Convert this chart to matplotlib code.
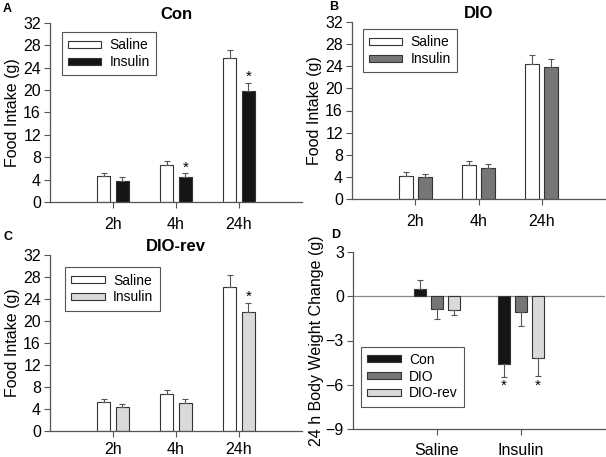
import numpy as np
import matplotlib.pyplot as plt

plt.rcParams['font.family'] = ['Liberation Sans', 'DejaVu Sans']

# food intake, panels A-C
times = ['2h', '4h', '24h']
con_saline = [4.6, 6.6, 25.7]
con_saline_err = [0.6, 0.7, 1.4]
con_insulin = [3.8, 4.4, 19.8]
con_insulin_err = [0.7, 0.7, 1.4]
dio_saline = [4.2, 6.1, 24.4]
dio_saline_err = [0.7, 0.8, 1.6]
dio_insulin = [3.9, 5.6, 23.9]
dio_insulin_err = [0.6, 0.7, 1.4]
rev_saline = [5.2, 6.7, 26.2]
rev_saline_err = [0.7, 0.7, 2.2]
rev_insulin = [4.4, 5.1, 21.6]
rev_insulin_err = [0.6, 0.7, 1.7]

# body weight change, panel D
treatments = ['Saline', 'Insulin']
bw_con = [0.5, -4.6]
bw_con_err = [0.6, 0.9]
bw_dio = [-0.86, -1.1]
bw_dio_err = [0.7, 0.9]
bw_rev = [-0.9, -4.2]
bw_rev_err = [0.4, 1.2]

c_con = '#151515'
c_dio = '#767676'
c_rev = '#dadada'

W, H = 606, 457
fig = plt.figure(figsize=(W / 100, H / 100), dpi=100)


def px_rect(l, t, r, b):
    # axes rect from pixel edges
    return [l / W, 1 - b / H, (r - l) / W, (b - t) / H]


def updown_err(vals, err):
    vals = np.array(vals)
    err = np.array(err)
    up = np.where(vals >= 0, err, 0)
    lo = np.where(vals < 0, err, 0)
    return [lo, up]


def style_axis(ax, pad):
    ax.spines['top'].set_visible(False)
    ax.spines['right'].set_visible(False)
    for s in ['left', 'bottom']:
        ax.spines[s].set_color('#555555')
        ax.spines[s].set_linewidth(0.9)
    ax.tick_params(direction='out', length=4, width=0.8, colors='#555555',
                   labelcolor='black', labelsize=11.5)
    ax.tick_params(axis='y', pad=2.5)
    ax.tick_params(axis='x', pad=pad)


def add_legend(ax, anchor):
    leg = ax.legend(loc='upper left', bbox_to_anchor=anchor, fontsize=10,
                    fancybox=False, framealpha=1, edgecolor='#555555',
                    handlelength=2.4, handleheight=0.4, handletextpad=0.6,
                    borderpad=0.45, labelspacing=0.2, borderaxespad=0)
    leg.get_frame().set_linewidth(0.8)


ek = dict(ecolor='#555555', elinewidth=0.8, capsize=2.5, capthick=0.8)


def intake_panel(rect, title, sal, sal_err, ins, ins_err, ins_color, stars, anchor, pad):
    ax = fig.add_axes(rect)
    x = np.arange(1, len(times) + 1)
    w = 0.22
    ax.bar(x - 0.15, sal, w, color='white', edgecolor='#333333', linewidth=0.8,
           yerr=updown_err(sal, sal_err), error_kw=ek, label='Saline')
    ax.bar(x + 0.15, ins, w, color=ins_color, edgecolor='#333333', linewidth=0.8,
           yerr=updown_err(ins, ins_err), error_kw=ek, label='Insulin')
    for i in stars:
        ax.text(x[i] + 0.15, ins[i] + ins_err[i] + 1.1, '*', ha='center', va='center',
                fontsize=11)
    ax.set_xlim(0, 4)
    ax.set_ylim(0, 32)
    ax.set_yticks(range(0, 33, 4))
    ax.set_xticks(x)
    ax.set_xticklabels(times)
    ax.set_ylabel('Food Intake (g)', fontsize=11.5, labelpad=2)
    ax.set_title(title, fontsize=12, fontweight='bold', pad=3)
    style_axis(ax, pad)
    add_legend(ax, anchor)
    return ax


intake_panel(px_rect(50, 23, 302, 202), 'Con',
             con_saline, con_saline_err, con_insulin, con_insulin_err, c_con, [1, 2],
             (0.047, 0.95), 7)
intake_panel(px_rect(352, 22, 605, 199), 'DIO',
             dio_saline, dio_saline_err, dio_insulin, dio_insulin_err, c_dio, [],
             (0.043, 0.96), 7)
intake_panel(px_rect(50, 255, 302, 431), 'DIO-rev',
             rev_saline, rev_saline_err, rev_insulin, rev_insulin_err, c_rev, [2],
             (0.06, 0.93), 4)

# panel D
ax = fig.add_axes(px_rect(353, 252, 605, 429))
x = np.arange(1, len(treatments) + 1)
w = 0.14
ax.axhline(0, color='#888888', lw=0.9, zorder=0)
ax.bar(x - 0.2, bw_con, w, color=c_con, edgecolor='#333333', linewidth=0.8,
       yerr=updown_err(bw_con, bw_con_err), error_kw=ek, label='Con')
ax.bar(x, bw_dio, w, color=c_dio, edgecolor='#333333', linewidth=0.8,
       yerr=updown_err(bw_dio, bw_dio_err), error_kw=ek, label='DIO')
ax.bar(x + 0.2, bw_rev, w, color=c_rev, edgecolor='#333333', linewidth=0.8,
       yerr=updown_err(bw_rev, bw_rev_err), error_kw=ek, label='DIO-rev')
ax.text(x[1] - 0.2, bw_con[1] - bw_con_err[1] - 0.6, '*', ha='center', va='center', fontsize=11)
ax.text(x[1] + 0.2, bw_rev[1] - bw_rev_err[1] - 0.7, '*', ha='center', va='center', fontsize=11)
ax.set_xlim(0, 3)
ax.set_ylim(-9, 3)
ax.set_yticks([-9, -6, -3, 0, 3])
ax.set_xticks(x)
ax.set_xticklabels(treatments)
ax.set_ylabel('24 h Body Weight Change (g)', fontsize=11.5, labelpad=1)
style_axis(ax, 6)
add_legend(ax, (0.032, 0.466))

# panel letters
for lx, ly, letter in [(3, 3, 'A'), (329, 1, 'B'), (3, 231, 'C'), (331, 229, 'D')]:
    fig.text(lx / W, 1 - ly / H, letter, fontsize=9, fontweight='bold', va='top')

fig.savefig('out.png', dpi=100)
